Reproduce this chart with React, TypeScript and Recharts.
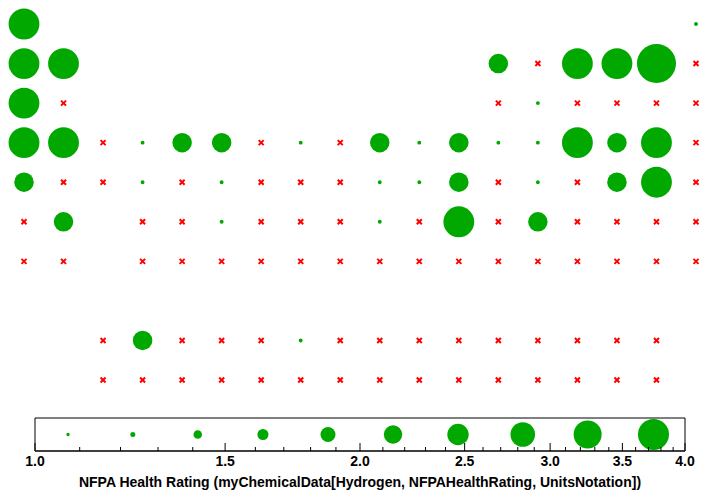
import React from "react";
import { ScatterChart, Scatter, XAxis, YAxis, ZAxis, ReferenceArea } from "recharts";

// grid cell codes: null = no entry, M = missing value (red cross), number = bubble magnitude
const M = -1;
const _ = null;

const row1 = [2.5, _, _, _, _, _, _, _, _, _, _, _, _, _, _, _, _, 0.04];
const row2 = [2.5, 2.5, _, _, _, _, _, _, _, _, _, _, 1, M, 2.5, 2.5, 4, M];
const row3 = [2.5, M, _, _, _, _, _, _, _, _, _, _, M, 0.04, M, M, M, M];
const row4 = [2.5, 2.5, M, 0.04, 1, 1, M, 0.04, M, 1, 0.04, 1, 0.04, 0.04, 2.5, 1, 2.5, M];
const row5 = [1, M, M, 0.04, M, 0.04, M, M, M, 0.04, 0.04, 1, M, 0.04, M, 1, 2.5, M];
const row6 = [M, 1, _, M, M, 0.04, M, M, M, 0.04, M, 2.5, M, 1, M, M, M, M];
const row7 = [M, M, _, M, M, M, M, M, M, M, M, M, M, M, M, M, M, M];
const row8 = [_, _, _, _, _, _, _, _, _, _, _, _, _, _, _, _, _, _];
const row9 = [_, _, M, 1, M, M, M, 0.04, M, M, M, M, M, M, M, M, M, _];
const row10 = [_, _, M, M, M, M, M, M, M, M, M, M, M, M, M, M, M, _];

const gridRows = [row1, row2, row3, row4, row5, row6, row7, row8, row9, row10];

const legendValues = [1.073, 1.232, 1.415, 1.626, 1.868, 2.146, 2.465, 2.83, 3.25, 3.74];
const legendSizes = [0.03, 0.066, 0.19, 0.32, 0.59, 0.89, 1.2, 1.59, 2.06, 2.53];

const axisTicks = [
  1.0, 1.1, 1.2, 1.3, 1.4, 1.5, 1.6, 1.7, 1.8, 1.9, 2.0, 2.1, 2.2, 2.3, 2.4, 2.5,
  2.6, 2.7, 2.8, 2.9, 3.0, 3.1, 3.2, 3.3, 3.4, 3.5, 3.6, 3.7, 3.8, 3.9, 4.0,
];

const GREEN = "#00a800";
const RED = "#ff0000";
const FONT = "'Liberation Sans', Arial, Helvetica, sans-serif";
const MAX_MAG = 4;
const MAX_AREA = Math.PI * 19.5 * 19.5;

const bubbles: { col: number; row: number; z: number }[] = [];
const missing: { col: number; row: number }[] = [];
gridRows.forEach((cells, r) => {
  cells.forEach((v, c) => {
    if (v === null) return;
    if (v === M) missing.push({ col: c + 1, row: r + 1 });
    else bubbles.push({ col: c + 1, row: r + 1, z: v });
  });
});

const legendData = legendValues.map((x, i) => ({ x, y: 0.5, z: legendSizes[i] }));

function Cross(props: any) {
  const { cx, cy } = props;
  const s = 2.5;
  return (
    <g stroke={RED} strokeWidth={2}>
      <line x1={cx - s} y1={cy - s} x2={cx + s} y2={cy + s} />
      <line x1={cx - s} y1={cy + s} x2={cx + s} y2={cy - s} />
    </g>
  );
}

function LogTick(props: any) {
  const { x, y, payload } = props;
  const v = payload.value;
  const major = Math.abs(v * 2 - Math.round(v * 2)) < 1e-6;
  return (
    <g>
      <line x1={x} x2={x} y1={y} y2={y - (major ? 8 : 4)} stroke="#000" strokeWidth={1} />
      {major && (
        <text x={x} y={y + 14.5} textAnchor="middle" fontWeight="bold" fontSize={14} fontFamily={FONT} fill="#000">
          {v.toFixed(1)}
        </text>
      )}
    </g>
  );
}

export default function App() {
  return (
    <div style={{ position: "absolute", left: 0, top: 0, width: 720, height: 494, background: "#fff" }}>
      <div style={{ position: "absolute", left: 0, top: 0 }}>
        <ScatterChart width={720} height={404} margin={{ top: 24, right: 24, bottom: 24, left: 24 }}>
          <XAxis type="number" dataKey="col" domain={[1, 18]} hide />
          <YAxis type="number" dataKey="row" domain={[1, 10]} reversed hide />
          <ZAxis type="number" dataKey="z" domain={[0, MAX_MAG]} range={[0, MAX_AREA]} />
          <Scatter data={missing} shape={<Cross />} isAnimationActive={false} />
          <Scatter data={bubbles} fill={GREEN} isAnimationActive={false} />
        </ScatterChart>
      </div>
      <div style={{ position: "absolute", left: 0, top: 400 }}>
        <ScatterChart width={720} height={94} margin={{ top: 18, right: 35, bottom: 13, left: 35 }}>
          <XAxis
            type="number"
            dataKey="x"
            scale="log"
            domain={[1, 4]}
            ticks={axisTicks}
            interval={0}
            tickSize={0}
            tickMargin={0}
            tickLine={false}
            axisLine={{ stroke: "#000" }}
            tick={<LogTick />}
            height={30}
            allowDataOverflow
            label={{
              value: "NFPA Health Rating (myChemicalData[Hydrogen, NFPAHealthRating, UnitsNotation])",
              position: "bottom",
              offset: -4,
              fontWeight: "bold",
              fontSize: 14,
              fontFamily: FONT,
              fill: "#000",
            }}
          />
          <YAxis type="number" dataKey="y" domain={[0, 1]} hide />
          <ZAxis type="number" dataKey="z" domain={[0, MAX_MAG]} range={[0, MAX_AREA]} />
          <ReferenceArea x1={1} x2={4} y1={0} y2={1} fill="none" stroke="#000" strokeWidth={1} fillOpacity={0} />
          <Scatter data={legendData} fill={GREEN} isAnimationActive={false} />
        </ScatterChart>
      </div>
    </div>
  );
}
